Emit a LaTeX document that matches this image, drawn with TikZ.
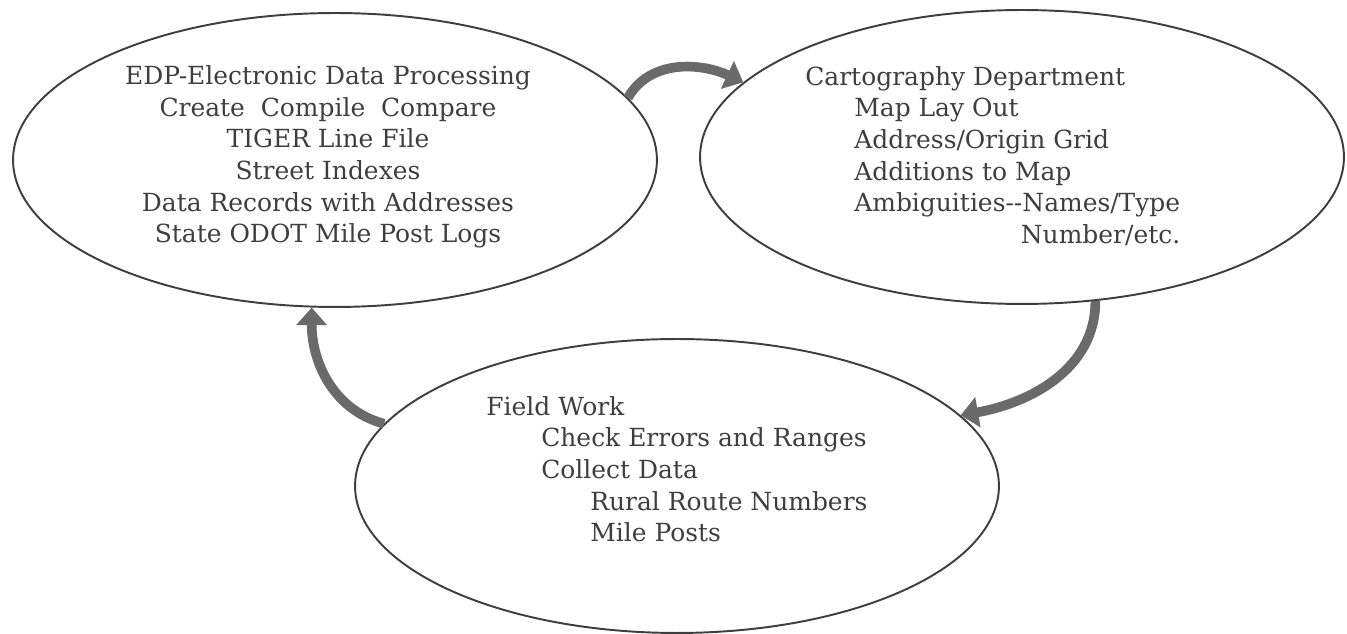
\documentclass[tikz,border=0pt]{standalone}
\usepackage{fontspec}
\setmainfont{DejaVu Serif}
\usetikzlibrary{arrows.meta, shapes.geometric}
\definecolor{inkgray}{HTML}{3E3E3E}
\definecolor{arrowgray}{HTML}{6A6A6A}

\begin{document}
\begin{tikzpicture}[
x=0.02cm, y=-0.02cm,
bubble/.style={ellipse, draw=inkgray, line width=1.1pt, minimum width=12.88cm, minimum height=5.88cm, inner sep=0pt},
txt/.style={inner sep=0pt, text=inkgray, font=\fontsize{14.2}{18}\selectfont},
arrow/.style={line width=5.5pt, draw=arrowgray, -{Triangle[width=17pt,length=10pt]}}
]
\useasboundingbox (0,0) rectangle (1347,634);

\node (edp) [bubble] at (335,160) {};
\node (carto) [bubble] at (1022,157) {};
\node (field) [bubble] at (677,486) {};

\node (edptext) [txt, align=center] at (328,157) {EDP-Electronic Data Processing\\ Create\ \ Compile\ \ Compare\\ TIGER Line File\\ Street Indexes\\ Data Records with Addresses\\ State ODOT Mile Post Logs};

\node (cartotext) [txt, anchor=north west, align=left] at (805,66) {Cartography Department\\
\hspace*{0.98cm}Map Lay Out\\
\hspace*{0.98cm}Address/Origin Grid\\
\hspace*{0.98cm}Additions to Map\\
\hspace*{0.98cm}Ambiguities-{}-Names/Type\\
\hspace*{0.98cm}\phantom{Ambiguities-{}-Names/Type}\llap{Number/etc.}};

\node (fieldtext) [txt, anchor=north west, align=left] at (486,396) {Field Work\\
\hspace*{1.1cm}Check Errors and Ranges\\
\hspace*{1.1cm}Collect Data\\
\hspace*{2.08cm}Rural Route Numbers\\
\hspace*{2.08cm}Mile Posts};

\draw [arrow] (edp.12) to[out=60, in=155] (carto.165);
\draw [arrow] (carto.-63) to[out=-90, in=10] (field.14);
\draw [arrow] (field.168) to[out=165, in=-90] (edp.261);

\end{tikzpicture}
\end{document}
